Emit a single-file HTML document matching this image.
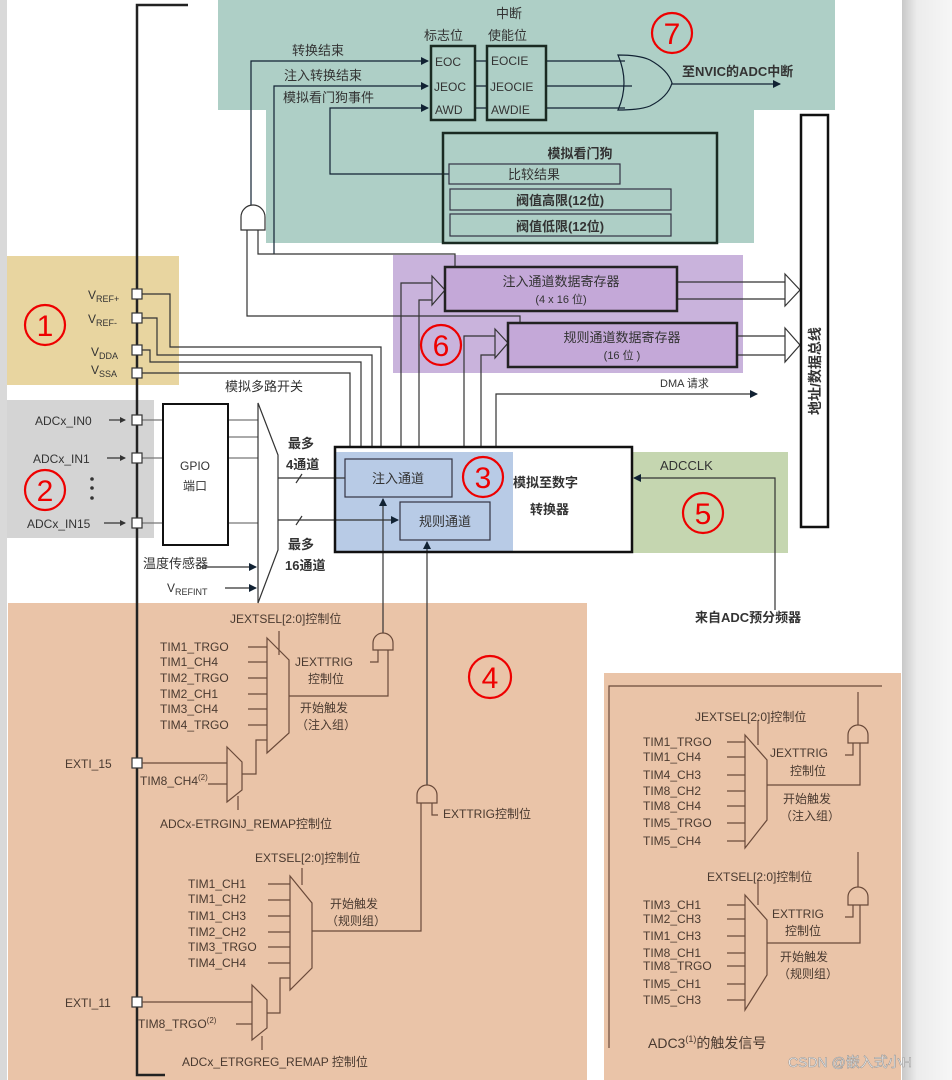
<!DOCTYPE html>
<html><head><meta charset="utf-8"><style>
html,body{margin:0;padding:0;background:#fff;}
svg{display:block;}
text{font-family:"Liberation Sans","Noto Sans CJK SC",sans-serif;fill:#333;}
.b{font-weight:bold;}
.c{fill:none;stroke:#e00;stroke-width:2.2;}
.n{fill:#e00;font-size:30px;text-anchor:middle;}
</style></head><body>
<svg width="952" height="1080" viewBox="0 0 952 1080" xmlns="http://www.w3.org/2000/svg">
<defs>
<marker id="a" markerWidth="8" markerHeight="8" refX="7" refY="4" orient="auto" markerUnits="userSpaceOnUse"><path d="M0,0 L8,4 L0,8z" fill="#123"/></marker>
<marker id="as" markerWidth="6" markerHeight="6" refX="5" refY="3" orient="auto" markerUnits="userSpaceOnUse"><path d="M0,0 L6,3 L0,6z" fill="#333"/></marker>
<linearGradient id="g" x1="0" x2="1"><stop offset="0" stop-color="#c8c8c8"/><stop offset="0.3" stop-color="#ececec"/><stop offset="1" stop-color="#f6f6f6"/></linearGradient>
</defs>
<rect x="0" y="0" width="952" height="1080" fill="#fff"/>
<rect x="0" y="0" width="7" height="1080" fill="#d9d9d9"/>
<rect x="902" y="0" width="50" height="1080" fill="url(#g)"/>

<!-- regions -->
<rect x="218" y="0" width="617" height="110" fill="#aecfc6"/>
<rect x="266" y="110" width="488" height="133" fill="#aecfc6"/>
<rect x="7" y="256" width="172" height="129" fill="#e8d5a0"/>
<rect x="7" y="400" width="147" height="138" fill="#d4d4d4"/>
<rect x="393" y="255" width="350" height="118" fill="#c9b3dc"/>
<rect x="632" y="452" width="156" height="101" fill="#c5d6b0"/>
<rect x="335" y="447" width="297" height="105" fill="#fff"/>
<rect x="335" y="452" width="178" height="100" fill="#b8cbe6"/>
<rect x="8" y="603" width="579" height="477" fill="#eac4a8"/>
<rect x="604" y="673" width="297" height="407" fill="#eac4a8"/>

<g fill="none" stroke="#333" stroke-width="1.2">
<path d="M188,5 H137 V1075 H165" stroke="#222" stroke-width="2.5"/>
<path d="M251,205 V61 H428" marker-end="url(#a)" stroke="#123"/>
<path d="M274,254 V86 H428" marker-end="url(#a)" stroke="#123"/>
<path d="M449,174 H330 V108 H428" marker-end="url(#a)" stroke="#123"/>
<path d="M474,61 H487 M474,86 H487 M474,108 H487" stroke="#123"/>
<path d="M546,61 H625 M546,86 H632 M546,108 H625" stroke="#123"/>
<path d="M618,55 Q640,55 650,60 Q668,70 672,83 Q668,97 650,106 Q640,110 618,110 Q630,83 618,55z" stroke="#123"/>
<path d="M672,84 H780" marker-end="url(#a)" stroke="#123"/>
<path d="M241,230 V217 A12,12 0 0 1 265,217 V230z" stroke="#333"/>
<path d="M247,230 V316 H520 V323"/>
<path d="M258,230 V254 H455 V267"/>
<path d="M142,294 H170 V347 H381 V447"/>
<path d="M142,318 H157 V355 H372 V447"/>
<path d="M142,350 H150 V362 H361 V447"/>
<path d="M142,373 H350 V447"/>
<path d="M401,447 V283 H432"/>
<path d="M419,447 V300 H432"/>
<path d="M432,276 L445,290 L432,305 z" fill="#c9b3dc"/>
<path d="M464,447 V336 H495"/>
<path d="M481,447 V355 H495"/>
<path d="M495,329 L508,343 L495,358 z" fill="#c9b3dc"/>
<path d="M677,282 H785 M677,299 H785"/>
<path d="M785,274 L800,290 L785,306 z" fill="#fff"/>
<path d="M737,336 H785 M737,355 H785"/>
<path d="M785,328 L800,345 L785,362 z" fill="#fff"/>
<path d="M496,447 V394 H757" marker-end="url(#a)"/>
<path d="M775,610 V478 H634" marker-end="url(#a)"/>
<path d="M142,420 H163 M142,458 H163 M142,523 H163" stroke="#777"/>
<path d="M228,420 H258 M228,437 H258 M228,458 H258 M228,523 H258" stroke="#777"/>
<path d="M258,403 L278,455 V550 L258,603 z" fill="#fff"/>
<path d="M278,478 H359" marker-end="url(#a)"/>
<path d="M278,520 H398" marker-end="url(#a)"/>
<path d="M296,483 L302,474 M296,525 L302,516"/>
<path d="M200,567 H256" marker-end="url(#a)"/>
<path d="M225,588 H256" marker-end="url(#a)"/>
<path d="M383,633 V499" marker-end="url(#a)"/>
<path d="M427,785 V542" marker-end="url(#a)"/>
<path d="M109,420 H125" marker-end="url(#as)"/>
<path d="M107,458 H125" marker-end="url(#as)"/>
<path d="M104,523 H125" marker-end="url(#as)"/>
</g>

<g fill="#fff" stroke="#333" stroke-width="1.2">
<rect x="132" y="289" width="10" height="10"/><rect x="132" y="313" width="10" height="10"/>
<rect x="132" y="345" width="10" height="10"/><rect x="132" y="368" width="10" height="10"/>
<rect x="132" y="415" width="10" height="10"/><rect x="132" y="453" width="10" height="10"/>
<rect x="132" y="518" width="10" height="10"/>
<rect x="132" y="758" width="10" height="10"/><rect x="132" y="997" width="10" height="10"/>
</g>

<g fill="none" stroke="#1a2a22" stroke-width="2.5">
<rect x="431" y="46" width="44" height="74"/>
<rect x="487" y="46" width="59" height="74"/>
<rect x="443" y="133" width="274" height="110"/>
</g>
<g fill="none" stroke="#334" stroke-width="1.2">
<rect x="449" y="164" width="171" height="20"/>
<rect x="450" y="189" width="221" height="21"/>
<rect x="450" y="214" width="221" height="22"/>
</g>
<rect x="445" y="267" width="232" height="44" fill="#c4a8d8" stroke="#222" stroke-width="2.5"/>
<rect x="508" y="323" width="229" height="44" fill="#c4a8d8" stroke="#222" stroke-width="2.5"/>
<rect x="801" y="115" width="27" height="412" fill="#fff" stroke="#111" stroke-width="2.5"/>
<rect x="335" y="447" width="297" height="105" fill="none" stroke="#111" stroke-width="2.5"/>
<rect x="345" y="459" width="107" height="38" fill="#b8cbe6" stroke="#334" stroke-width="1.2"/>
<rect x="400" y="502" width="90" height="38" fill="#b8cbe6" stroke="#334" stroke-width="1.2"/>
<rect x="163" y="404" width="65" height="141" fill="#fff" stroke="#111" stroke-width="2"/>

<text x="292" y="55" font-size="13">转换结束</text>
<text x="284" y="80" font-size="13">注入转换结束</text>
<text x="283" y="102" font-size="13">模拟看门狗事件</text>
<text x="424" y="40" font-size="13">标志位</text>
<text x="496" y="18" font-size="13">中断</text>
<text x="488" y="40" font-size="13">使能位</text>
<text x="435" y="66" font-size="12">EOC</text>
<text x="434" y="91" font-size="12">JEOC</text>
<text x="435" y="114" font-size="12">AWD</text>
<text x="491" y="65" font-size="12">EOCIE</text>
<text x="490" y="91" font-size="12">JEOCIE</text>
<text x="491" y="114" font-size="12">AWDIE</text>
<text x="682" y="76" font-size="13" class="b">至NVIC的ADC中断</text>
<text x="580" y="158" font-size="13" text-anchor="middle" class="b">模拟看门狗</text>
<text x="534" y="179" font-size="13" text-anchor="middle">比较结果</text>
<text x="560" y="205" font-size="13" text-anchor="middle" class="b">阀值高限(12位)</text>
<text x="560" y="231" font-size="13" text-anchor="middle" class="b">阀值低限(12位)</text>
<text x="561" y="286" font-size="13" text-anchor="middle">注入通道数据寄存器</text>
<text x="561" y="303" font-size="11" text-anchor="middle">(4 x 16 位)</text>
<text x="622" y="342" font-size="13" text-anchor="middle">规则通道数据寄存器</text>
<text x="622" y="359" font-size="11" text-anchor="middle">(16 位 )</text>
<text x="660" y="387" font-size="11">DMA 请求</text>
<text x="820" y="371" font-size="14" class="b" text-anchor="middle" transform="rotate(-90 820 371)">地址/数据总线</text>
<text x="398" y="483" font-size="13" text-anchor="middle">注入通道</text>
<text x="445" y="526" font-size="13" text-anchor="middle">规则通道</text>
<text x="513" y="487" font-size="13" class="b">模拟至数字</text>
<text x="530" y="514" font-size="13" class="b">转换器</text>
<text x="660" y="470" font-size="13">ADCCLK</text>
<text x="695" y="622" font-size="13" class="b">来自ADC预分频器</text>

<text x="88" y="299" font-size="12">V<tspan font-size="9" dy="3">REF+</tspan></text>
<text x="88" y="323" font-size="12">V<tspan font-size="9" dy="3">REF-</tspan></text>
<text x="91" y="356" font-size="12">V<tspan font-size="9" dy="3">DDA</tspan></text>
<text x="91" y="374" font-size="12">V<tspan font-size="9" dy="3">SSA</tspan></text>
<text x="225" y="391" font-size="13">模拟多路开关</text>
<text x="35" y="425" font-size="12">ADCx_IN0</text>
<text x="33" y="463" font-size="12">ADCx_IN1</text>
<text x="27" y="528" font-size="12">ADCx_IN15</text>
<circle cx="92" cy="479" r="1.8" fill="#333"/><circle cx="92" cy="488" r="1.8" fill="#333"/><circle cx="92" cy="498" r="1.8" fill="#333"/>
<text x="195" y="470" font-size="12" text-anchor="middle">GPIO</text>
<text x="195" y="490" font-size="12" text-anchor="middle">端口</text>
<text x="143" y="568" font-size="13">温度传感器</text>
<text x="167" y="592" font-size="12">V<tspan font-size="9" dy="3">REFINT</tspan></text>
<text x="288" y="448" font-size="13" class="b">最多</text>
<text x="286" y="469" font-size="13" class="b">4通道</text>
<text x="288" y="549" font-size="13" class="b">最多</text>
<text x="285" y="570" font-size="13" class="b">16通道</text>

<g fill="none" stroke="#6a4a3a" stroke-width="1.2">
<path d="M267,638 L289,660 V733 L267,753 z"/>
<path d="M279,631 V655"/>
<path d="M248,647 H267 M248,662 H267 M248,678 H267 M248,694 H267 M248,709 H267 M248,725 H267"/>
<path d="M289,696 H388 V650"/>
<path d="M373,650 V643 A10,10 0 0 1 393,643 V650z"/>
<path d="M378,650 V662 H370"/>
<path d="M227,747 L242,762 V790 L227,802 z"/>
<path d="M142,763 H227 M208,784 H227"/>
<path d="M242,774 H256 V740 H267"/>
<path d="M238,796 V810"/>
<path d="M417,803 V795 A10,10 0 0 1 437,795 V803z"/>
<path d="M421,803 V931 H312"/>
<path d="M432,803 V815 H438"/>
<path d="M290,876 L312,903 V968 L290,990 z"/>
<path d="M302,868 V885"/>
<path d="M268,884 H290 M268,900 H290 M268,916 H290 M268,932 H290 M268,947 H290 M268,963 H290"/>
<path d="M252,985 L267,1000 V1028 L252,1040 z"/>
<path d="M142,1002 H252 M236,1024 H252"/>
<path d="M267,1013 H280 V978 H290"/>
<path d="M262,1036 V1050"/>
<path d="M609,1048 V686 H882"/>
<path d="M745,735 L767,760 V820 L745,848 z"/>
<path d="M758,720 V745"/>
<path d="M727,742 H745 M727,757 H745 M727,775 H745 M727,791 H745 M727,806 H745 M727,823 H745 M727,841 H745"/>
<path d="M767,785 H860 V743"/>
<path d="M848,743 V735 A10,10 0 0 1 868,735 V743z"/>
<path d="M858,725 V692"/>
<path d="M853,743 V755 H845"/>
<path d="M745,895 L767,920 V975 L745,1010 z"/>
<path d="M758,880 V905"/>
<path d="M727,905 H745 M727,919 H745 M727,936 H745 M727,953 H745 M727,966 H745 M727,984 H745 M727,1000 H745"/>
<path d="M767,943 H860 V905"/>
<path d="M848,905 V897 A10,10 0 0 1 868,897 V905z"/>
<path d="M858,887 V852"/>
<path d="M853,905 V917 H845"/>
</g>
<g font-size="12">
<text x="230" y="623" style="fill:#4a3a30">JEXTSEL[2:0]控制位</text>
<text x="160" y="651" style="fill:#4a3a30">TIM1_TRGO</text>
<text x="160" y="666" style="fill:#4a3a30">TIM1_CH4</text>
<text x="160" y="682" style="fill:#4a3a30">TIM2_TRGO</text>
<text x="160" y="698" style="fill:#4a3a30">TIM2_CH1</text>
<text x="160" y="713" style="fill:#4a3a30">TIM3_CH4</text>
<text x="160" y="729" style="fill:#4a3a30">TIM4_TRGO</text>
<text x="295" y="666" style="fill:#4a3a30">JEXTTRIG</text>
<text x="308" y="683" style="fill:#4a3a30">控制位</text>
<text x="300" y="712" style="fill:#4a3a30">开始触发</text>
<text x="296" y="729" style="fill:#4a3a30">（注入组）</text>
<text x="65" y="768" style="fill:#4a3a30">EXTI_15</text>
<text x="140" y="785" style="fill:#4a3a30">TIM8_CH4<tspan font-size="8" dy="-5">(2)</tspan></text>
<text x="160" y="828" style="fill:#4a3a30">ADCx-ETRGINJ_REMAP控制位</text>
<text x="443" y="818" style="fill:#4a3a30">EXTTRIG控制位</text>
<text x="255" y="862" style="fill:#4a3a30">EXTSEL[2:0]控制位</text>
<text x="188" y="888" style="fill:#4a3a30">TIM1_CH1</text>
<text x="188" y="903" style="fill:#4a3a30">TIM1_CH2</text>
<text x="188" y="920" style="fill:#4a3a30">TIM1_CH3</text>
<text x="188" y="936" style="fill:#4a3a30">TIM2_CH2</text>
<text x="188" y="951" style="fill:#4a3a30">TIM3_TRGO</text>
<text x="188" y="967" style="fill:#4a3a30">TIM4_CH4</text>
<text x="330" y="908" style="fill:#4a3a30">开始触发</text>
<text x="326" y="925" style="fill:#4a3a30">（规则组）</text>
<text x="65" y="1007" style="fill:#4a3a30">EXTI_11</text>
<text x="138" y="1028" style="fill:#4a3a30">TIM8_TRGO<tspan font-size="8" dy="-5">(2)</tspan></text>
<text x="182" y="1066" style="fill:#4a3a30">ADCx_ETRGREG_REMAP 控制位</text>
<text x="695" y="721" style="fill:#4a3a30">JEXTSEL[2:0]控制位</text>
<text x="643" y="746" style="fill:#4a3a30">TIM1_TRGO</text>
<text x="643" y="761" style="fill:#4a3a30">TIM1_CH4</text>
<text x="643" y="779" style="fill:#4a3a30">TIM4_CH3</text>
<text x="643" y="795" style="fill:#4a3a30">TIM8_CH2</text>
<text x="643" y="810" style="fill:#4a3a30">TIM8_CH4</text>
<text x="643" y="827" style="fill:#4a3a30">TIM5_TRGO</text>
<text x="643" y="845" style="fill:#4a3a30">TIM5_CH4</text>
<text x="770" y="757" style="fill:#4a3a30">JEXTTRIG</text>
<text x="790" y="775" style="fill:#4a3a30">控制位</text>
<text x="783" y="803" style="fill:#4a3a30">开始触发</text>
<text x="780" y="820" style="fill:#4a3a30">（注入组）</text>
<text x="707" y="881" style="fill:#4a3a30">EXTSEL[2:0]控制位</text>
<text x="643" y="909" style="fill:#4a3a30">TIM3_CH1</text>
<text x="643" y="923" style="fill:#4a3a30">TIM2_CH3</text>
<text x="643" y="940" style="fill:#4a3a30">TIM1_CH3</text>
<text x="643" y="957" style="fill:#4a3a30">TIM8_CH1</text>
<text x="643" y="970" style="fill:#4a3a30">TIM8_TRGO</text>
<text x="643" y="988" style="fill:#4a3a30">TIM5_CH1</text>
<text x="643" y="1004" style="fill:#4a3a30">TIM5_CH3</text>
<text x="772" y="918" style="fill:#4a3a30">EXTTRIG</text>
<text x="785" y="935" style="fill:#4a3a30">控制位</text>
<text x="780" y="961" style="fill:#4a3a30">开始触发</text>
<text x="778" y="978" style="fill:#4a3a30">（规则组）</text>
<text x="648" y="1048" font-size="14" style="fill:#4a3a30">ADC3<tspan font-size="9" dy="-6">(1)</tspan><tspan dy="6">的触发信号</tspan></text>
</g>
<text x="788" y="1067" font-size="14" style="fill:#fff;stroke:#999;stroke-width:0.6">CSDN @嵌入式小H</text>

<g>
<circle class="c" cx="45" cy="325" r="20"/><text class="n" x="45" y="336">1</text>
<circle class="c" cx="45" cy="490" r="20"/><text class="n" x="45" y="501">2</text>
<circle class="c" cx="483" cy="477" r="20"/><text class="n" x="483" y="488">3</text>
<circle class="c" cx="490" cy="677" r="21"/><text class="n" x="490" y="688">4</text>
<circle class="c" cx="703" cy="513" r="20"/><text class="n" x="703" y="524">5</text>
<circle class="c" cx="441" cy="345" r="20"/><text class="n" x="441" y="356">6</text>
<circle class="c" cx="672" cy="33" r="20"/><text class="n" x="672" y="44">7</text>
</g>
</svg>
</body></html>
